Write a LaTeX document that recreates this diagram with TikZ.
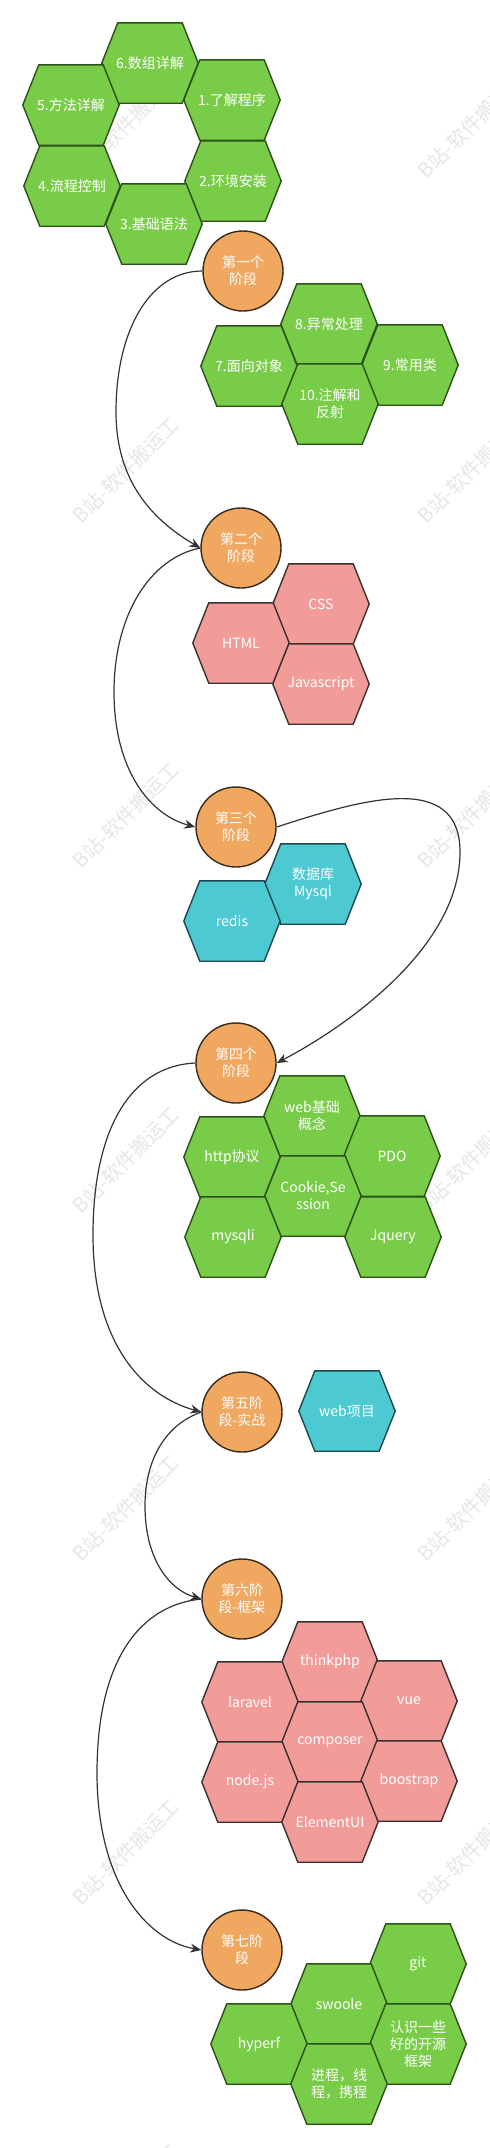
\documentclass[tikz,border=0pt]{standalone}
\usepackage{fontspec}
\setmainfont{Noto Sans CJK SC}
\usetikzlibrary{arrows.meta}
\pgfdeclarelayer{wmlayer}
\pgfdeclarelayer{hexlayer}
\pgfsetlayers{wmlayer,hexlayer,main}

\definecolor{hgreen}{HTML}{79CC47}
\definecolor{hgreenline}{HTML}{2C5219}
\definecolor{hpink}{HTML}{F19C99}
\definecolor{hpinkline}{HTML}{3A3030}
\definecolor{hteal}{HTML}{4DC9D2}
\definecolor{htealline}{HTML}{1E4850}
\definecolor{corange}{HTML}{F0A860}
\definecolor{corangeline}{HTML}{3A2A1C}
\definecolor{wmgray}{HTML}{E6E6E6}
\definecolor{linkgray}{HTML}{333333}

\tikzset{
  hexbox/.style={rectangle, minimum width=96pt, minimum height=80pt, inner sep=0pt,
    align=center, text=white, font=\fontsize{14}{17}\selectfont},
  greenhex/.style={fill=hgreen, draw=hgreenline, line width=1.4pt},
  pinkhex/.style={fill=hpink, draw=hpinkline, line width=1.4pt},
  tealhex/.style={fill=hteal, draw=htealline, line width=1.4pt},
  stage/.style={circle, minimum size=80pt, inner sep=0pt, fill=corange,
    draw=corangeline, line width=1.4pt, align=center, text=white,
    font=\fontsize{14}{17}\selectfont},
  link/.style={draw=linkgray, line width=1.2pt, -{Stealth[length=11pt,width=9pt]}},
  watermark/.style={text=wmgray, font=\fontsize{20}{20}\selectfont, rotate=45, inner sep=0pt},
}

\newcommand{\hexnode}[4]{%
  \node[hexbox] (#1) at (#2) {#4};
  \begin{pgfonlayer}{hexlayer}
    \path[#3] (#1.west) -- ([xshift=16pt]#1.north west) -- ([xshift=-16pt]#1.north east)
      -- (#1.east) -- ([xshift=-16pt]#1.south east) -- ([xshift=16pt]#1.south west) -- cycle;
  \end{pgfonlayer}}

\begin{document}
\begin{tikzpicture}[x=1pt, y=-1pt]
\useasboundingbox (0,0) rectangle (490,2148);
\begin{pgfonlayer}{wmlayer}
  \fill[white] (0,0) rectangle (490,2148);
  \node[watermark] (wa1) at (126,125) {B站-软件搬运工};
  \node[watermark] (wa2) at (126,470) {B站-软件搬运工};
  \node[watermark] (wa3) at (126,815) {B站-软件搬运工};
  \node[watermark] (wa4) at (126,1160) {B站-软件搬运工};
  \node[watermark] (wa5) at (126,1508) {B站-软件搬运工};
  \node[watermark] (wa6) at (126,1852) {B站-软件搬运工};
  \node[watermark] (wa7) at (126,2197) {B站-软件搬运工};
  \node[watermark] (wb1) at (471,125) {B站-软件搬运工};
  \node[watermark] (wb2) at (471,470) {B站-软件搬运工};
  \node[watermark] (wb3) at (471,815) {B站-软件搬运工};
  \node[watermark] (wb4) at (471,1160) {B站-软件搬运工};
  \node[watermark] (wb5) at (471,1508) {B站-软件搬运工};
  \node[watermark] (wb6) at (471,1852) {B站-软件搬运工};
\end{pgfonlayer}

% group 1
\hexnode{g6}{150,63}{greenhex}{6.数组详解}
\hexnode{g5}{71,105}{greenhex}{5.方法详解}
\hexnode{g1}{232,100}{greenhex}{1.了解程序}
\hexnode{g4}{72,186}{greenhex}{4.流程控制}
\hexnode{g2}{233,181}{greenhex}{2.环境安装}
\hexnode{g3}{154,224}{greenhex}{3.基础语法}

\node[stage] (c1) at (243,271) {第一个\\阶段};

% group 2
\hexnode{g8}{329,324}{greenhex}{8.异常处理}
\hexnode{g7}{249,366}{greenhex}{7.面向对象}
\hexnode{g9}{410,365}{greenhex}{9.常用类}
\hexnode{g10}{330,404}{greenhex}{10.注解和\\反射}

\node[stage] (c2) at (241,548) {第二个\\阶段};

% group 3
\hexnode{css}{321,604}{pinkhex}{CSS}
\hexnode{html}{241,643}{pinkhex}{HTML}
\hexnode{js}{321,684}{pinkhex}{Javascript}

\node[stage] (c3) at (236,827) {第三个\\阶段};

% group 4
\hexnode{mysql}{313,884}{tealhex}{数据库\\Mysql}
\hexnode{redis}{232,921}{tealhex}{redis}

\node[stage] (c4) at (236,1063) {第四个\\阶段};

% group 5
\hexnode{webbase}{312,1116}{greenhex}{web基础\\概念}
\hexnode{http}{232,1157}{greenhex}{http协议}
\hexnode{pdo}{392,1156}{greenhex}{PDO}
\hexnode{cookie}{313,1196}{greenhex}{Cookie,Se\\ssion}
\hexnode{mysqli}{233,1237}{greenhex}{mysqli}
\hexnode{jquery}{393,1237}{greenhex}{Jquery}

\node[stage] (c5) at (242,1412) {第五阶\\段-实战};
\hexnode{webproj}{347,1411}{tealhex}{web项目}

\node[stage] (c6) at (242,1599) {第六阶\\段-框架};

% group 6
\hexnode{think}{330,1662}{pinkhex}{thinkphp}
\hexnode{laravel}{250,1702}{pinkhex}{laravel}
\hexnode{vue}{409,1701}{pinkhex}{vue}
\hexnode{composer}{330,1742}{pinkhex}{composer}
\hexnode{nodejs}{250,1782}{pinkhex}{node.js}
\hexnode{boot}{409,1781}{pinkhex}{boostrap}
\hexnode{elem}{330,1822}{pinkhex}{ElementUI}

\node[stage] (c7) at (242,1950) {第七阶\\段};

% group 7
\hexnode{git}{418,1964}{greenhex}{git}
\hexnode{swoole}{339,2004}{greenhex}{swoole}
\hexnode{hyperf}{259,2044}{greenhex}{hyperf}
\hexnode{open}{418,2044}{greenhex}{认识一些\\好的开源\\框架}
\hexnode{proc}{339,2084}{greenhex}{进程，线\\程，携程}

% connectors
\draw[link] (c1.west) .. controls (150,271) and (116,330) .. (116,412)
  .. controls (116,480) and (151,519) .. (c2.west);
\draw[link] (c2.west) .. controls (150,558) and (114,615) .. (114,692)
  .. controls (114,770) and (150,815) .. (c3.west);
\draw[link] (c3.east) .. controls (360,800) and (460,770) .. (460,852)
  .. controls (460,950) and (340,1030) .. (c4.east);
\draw[link] (c4.west) .. controls (130,1066) and (93,1130) .. (93,1235)
  .. controls (93,1340) and (140,1395) .. (c5.west);
\draw[link] (c5.west) .. controls (165,1425) and (145,1460) .. (145,1506)
  .. controls (145,1560) and (170,1590) .. (c6.west);
\draw[link] (c6.west) .. controls (140,1605) and (97,1660) .. (97,1773)
  .. controls (97,1880) and (145,1940) .. (c7.west);
\end{tikzpicture}
\end{document}
